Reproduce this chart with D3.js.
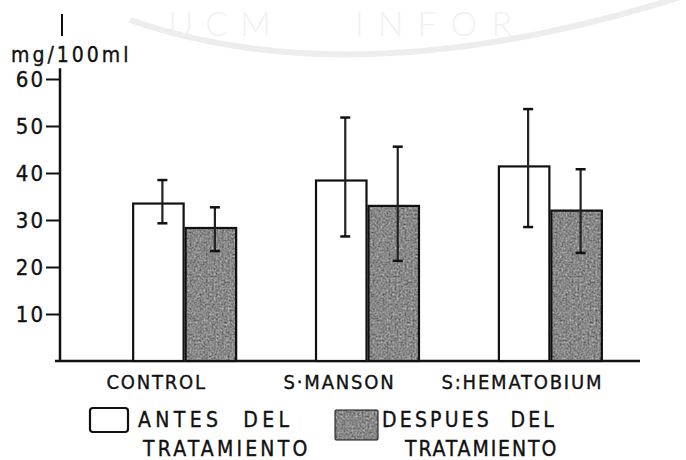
<!DOCTYPE html>
<html>
<head>
<meta charset="utf-8">
<script src="https://cdn.jsdelivr.net/npm/d3@7/dist/d3.min.js"></script>
<style>
  html, body { margin: 0; padding: 0; background: #ffffff; }
  svg { display: block; }
  text { font-family: "DejaVu Sans Condensed", "DejaVu Sans", sans-serif; fill: #111; stroke: #111; stroke-width: 0.35px; }
  .watermark text { stroke: none; }
</style>
</head>
<body>
<svg id="chart" width="686" height="460"></svg>
<script>
// ---- data ----
const categories = ["CONTROL", "S·MANSON", "S:HEMATOBIUM"];
const seriesKeys = ["antes", "despues"];
const antes = [33.5, 38.4, 41.4];
const despues = [28.3, 33.0, 32.0];
const antesLow = [29.3, 26.5, 28.5];
const antesHigh = [38.5, 51.8, 53.6];
const despuesLow = [23.4, 21.3, 23.0];
const despuesHigh = [32.7, 45.6, 40.8];
const yTicks = [10, 20, 30, 40, 50, 60];
const yUnit = "mg/100ml";
const legendLine1 = ["ANTES  DEL", "DESPUES  DEL"];
const legendLine2 = ["TRATAMIENTO", "TRATAMIENTO"];

const svg = d3.select("#chart");
const defs = svg.append("defs");

// stippled gray texture for the "after treatment" bars
const f = defs.append("filter").attr("id", "stipple")
  .attr("color-interpolation-filters", "sRGB")
  .attr("x", 0).attr("y", 0).attr("width", 1).attr("height", 1);
f.append("feTurbulence").attr("type", "fractalNoise")
  .attr("baseFrequency", 0.5).attr("numOctaves", 2).attr("seed", 3).attr("result", "noise");
f.append("feColorMatrix").attr("in", "noise").attr("type", "matrix")
  .attr("values", "0.32 0.32 0.32 0 0.05  0.32 0.32 0.32 0 0.05  0.32 0.32 0.32 0 0.05  0 0 0 0 1")
  .attr("result", "gray");
f.append("feComposite").attr("in", "gray").attr("in2", "SourceGraphic").attr("operator", "in");

// faint watermark
const wm = svg.append("g").attr("class", "watermark");
wm.append("path")
  .attr("d", "M130,20 Q360,100 690,-6")
  .attr("fill", "none").attr("stroke", "#ededed").attr("stroke-width", 6);
wm.append("text").attr("x", 283).attr("y", 36).attr("text-anchor", "end")
  .style("font-size", "34px").style("font-weight", 300).style("letter-spacing", "12px")
  .style("fill", "#f1f1f1").style("font-family", "Lato, sans-serif").text("UCM");
wm.append("text").attr("x", 355).attr("y", 36)
  .style("font-size", "34px").style("font-weight", 300).style("letter-spacing", "14px")
  .style("fill", "#f1f1f1").style("font-family", "Lato, sans-serif").text("INFOR");

// scales
const x0 = d3.scaleBand().domain(categories).range([59, 676])
  .paddingInner(0.426).paddingOuter(0.4);
const x1 = d3.scaleBand().domain(seriesKeys).range([0, x0.bandwidth()]).padding(0);
const y = d3.scaleLinear().domain([0, 60]).range([361, 79]);

const axisX = 60;

// y axis
const yAxis = svg.append("g").attr("transform", `translate(${axisX},0)`)
  .call(d3.axisLeft(y).tickValues(yTicks).tickSize(14).tickPadding(1).tickFormat(d3.format("d")));
yAxis.attr("font-family", null).attr("font-size", null);
yAxis.select(".domain").remove();
yAxis.selectAll(".tick line").attr("stroke", "#111").attr("stroke-width", 2);
yAxis.selectAll(".tick text")
  .style("font-size", "22px").style("letter-spacing", "2px").attr("fill", null);

// axis line
svg.append("line").attr("x1", axisX).attr("x2", axisX)
  .attr("y1", y(62.3)).attr("y2", y(0) + 1)
  .attr("stroke", "#111").attr("stroke-width", 2.5);
svg.append("line").attr("x1", axisX + 2).attr("x2", axisX + 2)
  .attr("y1", 14).attr("y2", 36)
  .attr("stroke", "#111").attr("stroke-width", 2);
svg.append("text").attr("x", 11).attr("y", 62)
  .style("font-size", "21px").style("letter-spacing", "3px").text(yUnit);

// baseline
svg.append("line").attr("x1", 55).attr("x2", 640)
  .attr("y1", y(0)).attr("y2", y(0))
  .attr("stroke", "#111").attr("stroke-width", 2.5);

// bars
const rows = categories.map((c, i) => ({
  cat: c,
  items: [
    { key: "antes", v: antes[i], lo: antesLow[i], hi: antesHigh[i] },
    { key: "despues", v: despues[i], lo: despuesLow[i], hi: despuesHigh[i] }
  ]
}));

const groups = svg.append("g").selectAll("g").data(rows).join("g")
  .attr("transform", d => `translate(${x0(d.cat)},0)`);

const bars = groups.selectAll("g.bar").data(d => d.items).join("g").attr("class", "bar");
bars.filter(d => d.key === "despues").append("rect")
  .attr("x", d => x1(d.key)).attr("y", d => y(d.v))
  .attr("width", x1.bandwidth()).attr("height", d => y(0) - y(d.v))
  .attr("fill", "#888").attr("filter", "url(#stipple)");
bars.append("rect")
  .attr("x", d => x1(d.key) + 1).attr("y", d => y(d.v))
  .attr("width", x1.bandwidth() - 2).attr("height", d => y(0) - y(d.v))
  .attr("fill", d => d.key === "antes" ? "#fff" : "none")
  .attr("stroke", "#111").attr("stroke-width", 2.2);

// error bars
const cap = 5;
const ex = d => x1(d.key) + x1.bandwidth() / 2 + 4;
bars.append("line")
  .attr("x1", ex).attr("x2", ex)
  .attr("y1", d => y(d.hi)).attr("y2", d => y(d.lo))
  .attr("stroke", "#222").attr("stroke-width", 2.2);
bars.selectAll("line.cap").data(d => [d.hi, d.lo].map(v => ({ v, d }))).join("line").attr("class", "cap")
  .attr("x1", e => ex(e.d) - cap)
  .attr("x2", e => ex(e.d) + cap)
  .attr("y1", e => y(e.v)).attr("y2", e => y(e.v))
  .attr("stroke", "#111").attr("stroke-width", 2.5);

// category labels
svg.append("g").selectAll("text").data(categories).join("text")
  .attr("x", d => x0(d) + x0.bandwidth() / 2 - 28)
  .attr("y", 389)
  .attr("text-anchor", "middle")
  .style("font-size", "20px").style("letter-spacing", "1.8px")
  .text(d => d);

// legend
const legendBoxes = [
  { x: 90, y: 408, w: 38, h: 24 },
  { x: 335, y: 410, w: 43, h: 30 }
];
const lg = svg.append("g").selectAll("g").data(seriesKeys).join("g");
lg.filter((d, i) => i === 1).append("rect")
  .attr("x", legendBoxes[1].x).attr("y", legendBoxes[1].y)
  .attr("width", legendBoxes[1].w).attr("height", legendBoxes[1].h)
  .attr("fill", "#888").attr("filter", "url(#stipple)");
lg.append("rect")
  .attr("x", (d, i) => legendBoxes[i].x).attr("y", (d, i) => legendBoxes[i].y)
  .attr("width", (d, i) => legendBoxes[i].w).attr("height", (d, i) => legendBoxes[i].h)
  .attr("rx", (d, i) => i === 0 ? 3 : 1)
  .attr("fill", (d, i) => i === 0 ? "#fff" : "none")
  .attr("stroke", "#111").attr("stroke-width", (d, i) => i === 0 ? 2.2 : 1);
lg.append("text")
  .attr("x", (d, i) => legendBoxes[i].x + legendBoxes[i].w + (i === 0 ? 10 : 4))
  .attr("y", 427)
  .style("font-size", "21px").style("letter-spacing", (d, i) => i === 0 ? "4.4px" : "3.2px")
  .style("white-space", "pre")
  .text((d, i) => legendLine1[i]);
lg.append("text")
  .attr("x", (d, i) => legendBoxes[i].x + legendBoxes[i].w + (i === 0 ? 15 : 27))
  .attr("y", 456)
  .style("font-size", "21px").style("letter-spacing", (d, i) => i === 0 ? "3.2px" : "1.9px")
  .text((d, i) => legendLine2[i]);
</script>
</body>
</html>
